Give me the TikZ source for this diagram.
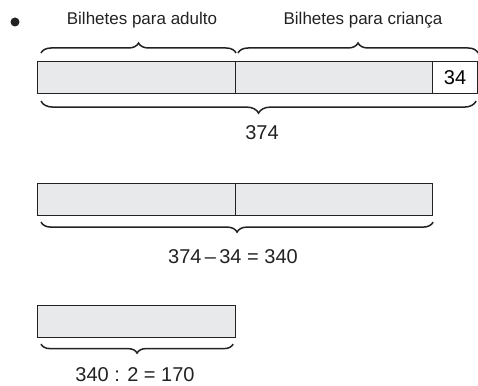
\documentclass[tikz,border=0pt]{standalone}
\usepackage{fontspec}
\setmainfont{Liberation Sans}
\usepackage{tikz}
\usetikzlibrary{decorations.pathreplacing}
\definecolor{barfill}{HTML}{E8E9EB}
\definecolor{ink}{HTML}{222222}

\begin{document}
\begin{tikzpicture}[x=1pt,y=-1pt,
		cell/.style={draw=ink,fill=barfill,line width=1.1pt,minimum height=32pt,inner sep=0pt,anchor=north west},
		curly/.style={decorate,decoration={brace,amplitude=#1},line width=1.5pt,draw=ink},
		label node/.style={font=\fontsize{17}{20}\selectfont,text=ink},
		num node/.style={font=\fontsize{20}{24}\selectfont,text=ink}]
		\useasboundingbox (0,0) rectangle (478,385);
		
		% heading
		\fill[ink] (15,22) circle (4.5pt);
		\node[label node] (adulto) at (142,20) {Bilhetes para adulto};
		\node[label node] (crianca) at (363,20) {Bilhetes para criança};
		
		% first bar
		\node[cell,minimum width=198pt] (a1) at (37,61) {};
		\node[cell,minimum width=197pt] (c1) at (235,61) {};
		\node[cell,fill=white,minimum width=45pt,font=\fontsize{20}{24}\selectfont] (k1) at (432,61) {34};
		\draw[curly=10pt] ([xshift=4pt,yshift=8pt]a1.north west) -- ([yshift=8pt]a1.north east);
		\draw[curly=10pt] ([xshift=3pt,yshift=8pt]c1.north east -| c1.north west) -- ([yshift=8pt]k1.north east);
		\draw[curly=12pt] ([xshift=-2pt,yshift=-7pt]k1.south east) -- ([xshift=4pt,yshift=-7pt]a1.south west);
		\node[num node] (total) at (262,133) {374};
		
		% second bar
		\node[cell,minimum width=198pt] (a2) at (37,183) {};
		\node[cell,minimum width=197pt] (c2) at (235,183) {};
		\draw[curly=10pt] ([yshift=-6pt]c2.south east) -- ([xshift=4pt,yshift=-6pt]a2.south west);
		\node[num node] (diff) at (233,257) {374\,–\,34 = 340};
		
		% third bar
		\node[cell,minimum width=198pt] (a3) at (37,305) {};
		\draw[curly=9pt] ([xshift=-3pt,yshift=-6pt]a3.south east) -- ([xshift=4pt,yshift=-6pt]a3.south west);
		\node[num node] (half) at (135,375) {340 : 2 = 170};
		
		\end{tikzpicture}
\end{document}
